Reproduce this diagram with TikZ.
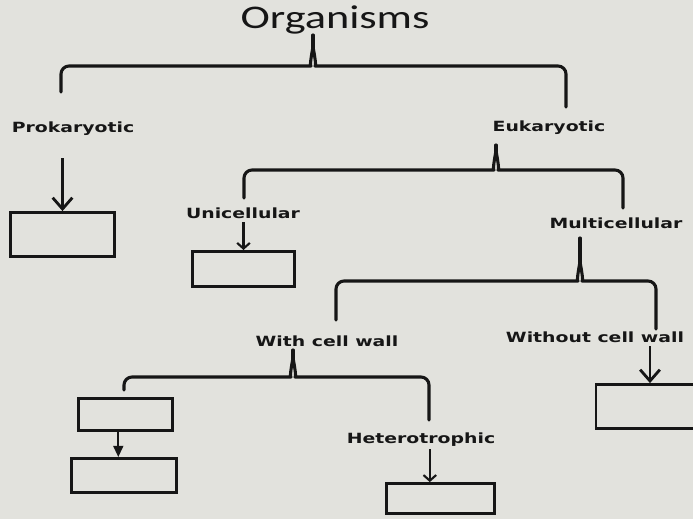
\documentclass[tikz,border=0pt]{standalone}
\usepackage{fontspec}
\setmainfont{Carlito}
\newfontfamily\titlefont{Carlito}[FakeStretch=1.34]
\newfontfamily\labelfont{DejaVu Sans}[FakeStretch=1.34]
\usepackage{xcolor}
\usepackage{tikz}
\usetikzlibrary{arrows.meta, positioning, calc}

\definecolor{paper}{RGB}{226,226,221}
\definecolor{ink}{RGB}{22,22,22}

% curly bracket: left end, tip, right end, depth of the tip
\newcommand{\twig}[4]{%
  \draw[bracket] (#1) |- ($(#2)+(-10,#4)$) to[out=0,in=90] ($(#2)+(0,#4-12)$)
    to[out=90,in=180] ($(#2)+(10,#4)$) -| (#3);
  \draw[bracket] ($(#2)+(0,#4-12)$) -- (#2);}

\begin{document}
\begin{tikzpicture}[
    x=0.025cm, y=-0.025cm,
    heading/.style={font=\titlefont\fontsize{23.5}{28}\selectfont, text=ink, inner sep=2pt},
    branch/.style={font=\labelfont\bfseries\fontsize{10}{12}\selectfont, text=ink, inner sep=2pt},
    blank/.style={rectangle, draw=ink, line width=2pt, inner sep=0pt},
    bracket/.style={draw=ink, line width=2.2pt, rounded corners=0.2cm, line join=round, line cap=round},
    arrow/.style={-{Straight Barb[length=8pt, width=14pt]}, draw=ink, line width=2pt},
    smallarrow/.style={-{Straight Barb[length=4pt, width=9pt]}, draw=ink, line width=1.5pt},
    fillarrow/.style={-{Triangle[length=8pt, width=7pt]}, draw=ink, line width=1.5pt}
]

\useasboundingbox (0,0) rectangle (693,519);
\fill[paper] (0,0) rectangle (693,519);

\node (org) [heading, anchor=base] at (335,29) {Organisms};
\node (prok) [branch, anchor=base] at (73,133) {Prokaryotic};
\node (euk) [branch, anchor=base] at (549,132) {Eukaryotic};
\node (uni) [branch, anchor=base] at (243,219) {Unicellular};
\node (multi) [branch, anchor=base] at (616,229) {Multicellular};
\node (wall) [branch, anchor=base] at (327,346) {With cell wall};
\node (nowall) [branch, anchor=base] at (595,343) {Without cell wall};
\node (hetero) [branch, anchor=base] at (421,443) {Heterotrophic};

\node (boxP) [blank, minimum width=2.6cm, minimum height=1.1cm] at (62.5,234.5) {};
\node (boxU) [blank, minimum width=2.55cm, minimum height=0.88cm] at (243.5,269) {};
\node (boxA) [blank, minimum width=2.35cm, minimum height=0.8cm] at (125.5,414.5) {};
\node (boxB) [blank, minimum width=2.63cm, minimum height=0.85cm] at (124,475.5) {};
\node (boxH) [blank, minimum width=2.7cm, minimum height=0.75cm] at (440.5,498.5) {};
\node (boxW) [blank, minimum width=2.7cm, minimum height=1.1cm] at (650,406.5) {};

\coordinate (orgtip) at (313,35);
\coordinate (euktip) at (496,145);
\coordinate (multitip) at (580,238);
\coordinate (walltip) at (293,350);
\coordinate (prokend) at (61,92);
\coordinate (eukend) at (566,107);
\coordinate (uniend) at (244,198);
\coordinate (multiend) at (623,208);
\coordinate (wallend) at (336,320);
\coordinate (nowallend) at (656,329);
\coordinate (autoend) at (124,390);
\coordinate (heteroend) at (429,420);

\twig{prokend}{orgtip}{eukend}{31}
\twig{uniend}{euktip}{multiend}{25}
\twig{wallend}{multitip}{nowallend}{43}
\twig{autoend}{walltip}{heteroend}{27}

\draw [arrow, shorten <=0.48cm] (prok.south -| boxP.north) -- (boxP.north);
\draw [smallarrow] (uni.south -| boxU.north) -- (boxU.north);
\draw [arrow] (nowall.south -| boxW.north) -- (boxW.north);
\draw [fillarrow] ([xshift=-0.18cm]boxA.south) -- ([xshift=-0.18cm]boxA.south |- boxB.north);
\draw [smallarrow] ([xshift=0.22cm]hetero.south) -- ([xshift=0.22cm]hetero.south |- boxH.north);

\end{tikzpicture}
\end{document}
